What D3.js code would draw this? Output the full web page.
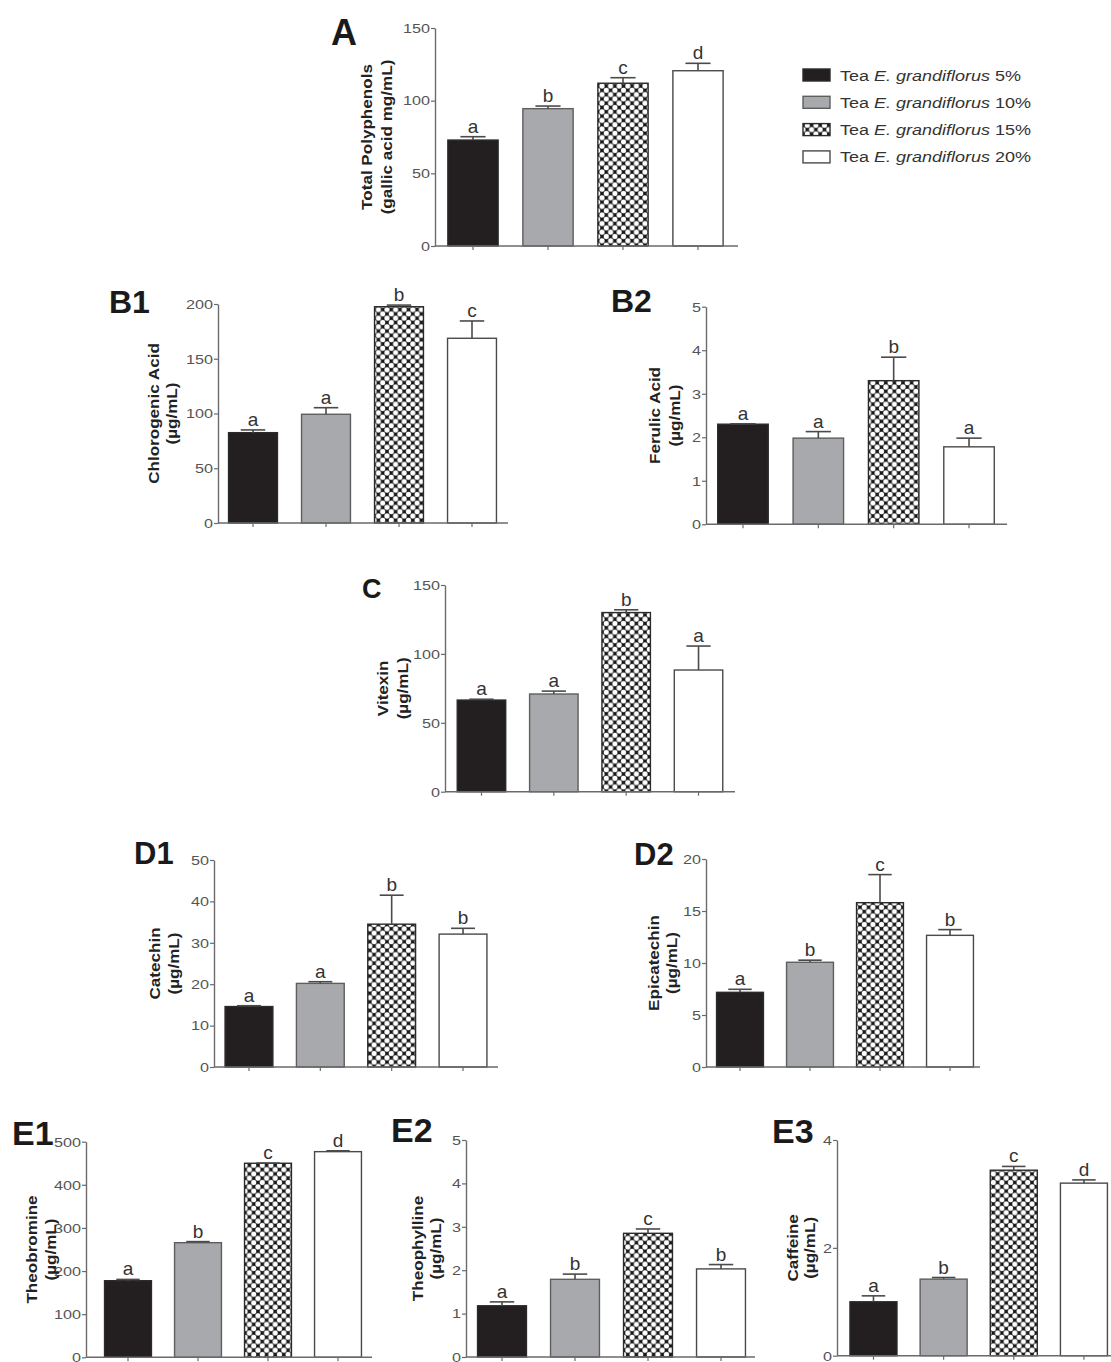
<!DOCTYPE html>
<html>
<head>
<meta charset="utf-8">
<script src="https://cdn.jsdelivr.net/npm/d3@7"></script>
<style>
body { margin: 0; background: #fff; }
svg { display: block; font-family: Arial, "Liberation Sans", sans-serif; }
</style>
</head>
<body>
<script>
// Tea E. grandiflorus infusions: phenolic and methylxanthine contents

var groups = ["5%", "10%", "15%", "20%"];

// mean values, standard deviation and significance letters per compound
var polyphenols = [72.9, 94.5, 112.0, 120.6];
var polyphenolsSd = [2.3, 1.8, 3.8, 5.1];
var polyphenolsSig = ["a", "b", "c", "d"];

var chlorogenic = [82.5, 99.3, 197.5, 168.7];
var chlorogenicSd = [2.5, 6.0, 1.5, 15.8];
var chlorogenicSig = ["a", "a", "b", "c"];

var ferulic = [2.30, 1.98, 3.30, 1.78];
var ferulicSd = [0.01, 0.15, 0.54, 0.20];
var ferulicSig = ["a", "a", "b", "a"];

var vitexin = [66.5, 70.9, 130.0, 88.3];
var vitexinSd = [0.6, 2.1, 2.0, 17.4];
var vitexinSig = ["a", "a", "b", "a"];

var catechin = [14.6, 20.2, 34.5, 32.1];
var catechinSd = [0.2, 0.4, 7.0, 1.4];
var catechinSig = ["a", "a", "b", "b"];

var epicatechin = [7.18, 10.07, 15.8, 12.66];
var epicatechinSd = [0.29, 0.2, 2.7, 0.55];
var epicatechinSig = ["a", "b", "c", "b"];

var theobromine = [177.6, 265.8, 450.0, 476.9];
var theobromineSd = [3, 2.5, 0.5, 2];
var theobromineSig = ["a", "b", "c", "d"];

var theophylline = [1.18, 1.79, 2.85, 2.03];
var theophyllineSd = [0.09, 0.12, 0.10, 0.10];
var theophyllineSig = ["a", "b", "c", "b"];

var caffeine = [1.00, 1.42, 3.44, 3.20];
var caffeineSd = [0.11, 0.03, 0.07, 0.06];
var caffeineSig = ["a", "b", "c", "d"];

// y axis tick labels
var ticksA = [0, 50, 100, 150];
var ticksB1 = [0, 50, 100, 150, 200];
var ticksB2 = [0, 1, 2, 3, 4, 5];
var ticksC = [0, 50, 100, 150];
var ticksD1 = [0, 10, 20, 30, 40, 50];
var ticksD2 = [0, 5, 10, 15, 20];
var ticksE1 = [0, 100, 200, 300, 400, 500];
var ticksE2 = [0, 1, 2, 3, 4, 5];
var ticksE3 = [0, 2, 4];

var legendPercents = ["5%", "10%", "15%", "20%"];

var barFill = ["#231f20", "#a7a9ac", "url(#hatch)", "#ffffff"];
var barStroke = ["#2a2a2a", "#5e5e5e", "#2a2a2a", "#4a4a4a"];

var svg = d3.select("body").append("svg")
    .attr("width", 1111)
    .attr("height", 1362);

// hatch pattern: white dots on black
var defs = svg.append("defs");
var ps = 8.6;
var pat = defs.append("pattern")
    .attr("id", "hatch")
    .attr("patternUnits", "userSpaceOnUse")
    .attr("width", ps)
    .attr("height", ps);
pat.append("rect").attr("width", ps).attr("height", ps).attr("fill", "#151515");
[[0, 0], [ps, 0], [0, ps], [ps, ps], [ps / 2, ps / 2]].forEach(function(c) {
    pat.append("circle").attr("cx", c[0]).attr("cy", c[1]).attr("r", 2.6).attr("fill", "#fff");
});

// text stretched horizontally (the figure is a bit wider than tall)
function addText(parent, x, y, str, size, sx, rot) {
    return parent.append("text")
        .attr("transform", "translate(" + x + "," + y + ")" + (rot ? " rotate(" + rot + ")" : "") + " scale(" + sx + ",1)")
        .style("font-size", size + "px")
        .text(str);
}

var panels = [
    { name: "A", nx: 331, ny: 45, nsize: 36, ax: 435, axEnd: 738, yTop: 28, y0: 246, max: 150, ticks: ticksA,
      band: [435.5, 735.5], mean: polyphenols, sd: polyphenolsSd, sig: polyphenolsSig,
      ylab: ["Total Polyphenols", "(gallic acid mg/mL)"], ylx: [367, 387] },
    { name: "B1", nx: 109, ny: 313, nsize: 32, ax: 218, axEnd: 508, yTop: 304, y0: 523, max: 200, ticks: ticksB1,
      band: [216.5, 508.5], mean: chlorogenic, sd: chlorogenicSd, sig: chlorogenicSig,
      ylab: ["Chlorogenic Acid", "(µg/mL)"], ylx: [154, 172] },
    { name: "B2", nx: 611, ny: 312, nsize: 32, ax: 706, axEnd: 1007, yTop: 306.7, y0: 524.3, max: 5, ticks: ticksB2,
      band: [705.3, 1006.7], mean: ferulic, sd: ferulicSd, sig: ferulicSig,
      ylab: ["Ferulic Acid", "(µg/mL)"], ylx: [655, 675] },
    { name: "C", nx: 362, ny: 598, nsize: 27, ax: 445, axEnd: 735, yTop: 585, y0: 791.7, max: 150, ticks: ticksC,
      band: [445.3, 734.7], mean: vitexin, sd: vitexinSd, sig: vitexinSig,
      ylab: ["Vitexin", "(µg/mL)"], ylx: [383, 403] },
    { name: "D1", nx: 134, ny: 864, nsize: 31, ax: 214, axEnd: 498, yTop: 860, y0: 1067, max: 50, ticks: ticksD1,
      band: [213.3, 498.7], mean: catechin, sd: catechinSd, sig: catechinSig,
      ylab: ["Catechin", "(µg/mL)"], ylx: [155, 174] },
    { name: "D2", nx: 634, ny: 865, nsize: 31, ax: 706, axEnd: 980, yTop: 859, y0: 1067, max: 20, ticks: ticksD2,
      band: [705, 985], mean: epicatechin, sd: epicatechinSd, sig: epicatechinSig,
      ylab: ["Epicatechin", "(µg/mL)"], ylx: [654, 672] },
    { name: "E1", nx: 12, ny: 1145, nsize: 34, ax: 86, axEnd: 372, yTop: 1141.7, y0: 1357.3, max: 500, ticks: ticksE1,
      band: [93, 373], mean: theobromine, sd: theobromineSd, sig: theobromineSig,
      ylab: ["Theobromine", "(µg/mL)"], ylx: [32, 51] },
    { name: "E2", nx: 391, ny: 1142, nsize: 34, ax: 466, axEnd: 755, yTop: 1140, y0: 1357, max: 5, ticks: ticksE2,
      band: [465.5, 757.5], mean: theophylline, sd: theophyllineSd, sig: theophyllineSig,
      ylab: ["Theophylline", "(µg/mL)"], ylx: [418, 436] },
    { name: "E3", nx: 772, ny: 1143, nsize: 34, ax: 837, axEnd: 1111, yTop: 1140, y0: 1355.7, max: 4, ticks: ticksE3,
      band: [838.4, 1119], mean: caffeine, sd: caffeineSd, sig: caffeineSig,
      ylab: ["Caffeine", "(µg/mL)"], ylx: [793, 810] }
];

panels.forEach(function(p) {
    var g = svg.append("g");

    var y = d3.scaleLinear().domain([0, p.max]).range([p.y0, p.yTop]);
    var x = d3.scaleBand().domain(groups).range(p.band).paddingInner(0.33).paddingOuter(0.165);

    var rows = groups.map(function(k, i) {
        return { key: k, i: i, mean: p.mean[i], sd: p.sd[i], sig: p.sig[i] };
    });

    // bars
    g.selectAll(".bar")
        .data(rows)
        .enter()
        .append("rect")
        .attr("x", function(d) { return x(d.key); })
        .attr("y", function(d) { return y(d.mean); })
        .attr("width", x.bandwidth())
        .attr("height", function(d) { return y(0) - y(d.mean); })
        .attr("fill", function(d) { return barFill[d.i]; })
        .attr("stroke", function(d) { return barStroke[d.i]; })
        .attr("stroke-width", 1.4);

    // error bars (upper half only)
    var cap = x.bandwidth() * 0.25;
    var err = g.selectAll(".err").data(rows).enter().append("g")
        .attr("stroke", "#4a4a4a")
        .attr("stroke-width", 1.6);
    err.append("line")
        .attr("x1", function(d) { return x(d.key) + x.bandwidth() / 2; })
        .attr("x2", function(d) { return x(d.key) + x.bandwidth() / 2; })
        .attr("y1", function(d) { return y(d.mean); })
        .attr("y2", function(d) { return y(d.mean + d.sd); });
    err.append("line")
        .attr("x1", function(d) { return x(d.key) + x.bandwidth() / 2 - cap; })
        .attr("x2", function(d) { return x(d.key) + x.bandwidth() / 2 + cap; })
        .attr("y1", function(d) { return y(d.mean + d.sd); })
        .attr("y2", function(d) { return y(d.mean + d.sd); });

    // significance letters
    g.selectAll(".sig")
        .data(rows)
        .enter()
        .append("text")
        .attr("x", function(d) { return x(d.key) + x.bandwidth() / 2; })
        .attr("y", function(d) { return y(d.mean + d.sd) - 4; })
        .attr("text-anchor", "middle")
        .style("font-size", "19px")
        .attr("fill", "#333")
        .text(function(d) { return d.sig; });

    // y axis
    var yAxis = g.append("g")
        .attr("transform", "translate(" + p.ax + ",0)")
        .call(d3.axisLeft(y).tickValues(p.ticks).tickFormat(d3.format("d"))
            .tickSize(4).tickSizeOuter(0).tickPadding(1));
    yAxis.select(".domain").attr("stroke", "#6a6a6a").attr("stroke-width", 1.4);
    yAxis.selectAll(".tick line").attr("stroke", "#6a6a6a").attr("stroke-width", 1.2);
    yAxis.selectAll(".tick text")
        .attr("fill", "#555")
        .style("font-size", "13.5px")
        .style("font-family", "Arial, 'Liberation Sans', sans-serif")
        .attr("x", -5 / 1.2)
        .attr("transform", "scale(1.2,1)");

    // x axis: plain line plus small ticks under each bar
    var xAxis = g.append("g")
        .attr("transform", "translate(0," + p.y0 + ")")
        .call(d3.axisBottom(x).tickSize(4).tickSizeOuter(0).tickFormat(""));
    xAxis.select(".domain").remove();
    xAxis.selectAll(".tick line").attr("stroke", "#6a6a6a").attr("stroke-width", 1.2);
    g.append("line")
        .attr("x1", p.ax).attr("x2", p.axEnd)
        .attr("y1", p.y0).attr("y2", p.y0)
        .attr("stroke", "#6a6a6a")
        .attr("stroke-width", 1.4);

    // y axis title, two rotated lines
    var midY = (p.y0 + p.yTop) / 2;
    p.ylab.forEach(function(t, i) {
        addText(g, p.ylx[i], midY, t, 14, 1.22, -90)
            .attr("dy", "0.36em")
            .attr("text-anchor", "middle")
            .style("font-weight", "bold")
            .attr("fill", "#222");
    });

    // panel letter
    addText(g, p.nx, p.ny, p.name, p.nsize, 1.0)
        .style("font-weight", "bold")
        .attr("fill", "#1a1a1a");
});

// legend
var legend = svg.append("g");
var legendRows = legend.selectAll(".row")
    .data(legendPercents)
    .enter()
    .append("g")
    .attr("transform", function(d, i) { return "translate(803," + (75 + i * 27.3) + ")"; });

legendRows.append("rect")
    .attr("x", 0)
    .attr("y", -6)
    .attr("width", 27)
    .attr("height", 12)
    .attr("fill", function(d, i) { return barFill[i]; })
    .attr("stroke", function(d, i) { return barStroke[i]; })
    .attr("stroke-width", 1.4);

legendRows.each(function(d) {
    var t = addText(d3.select(this), 37, 5.5, null, 15, 1.2)
        .attr("fill", "#333");
    t.append("tspan").text("Tea ");
    t.append("tspan").style("font-style", "italic").text("E. grandiflorus");
    t.append("tspan").text(" " + d);
});
</script>
</body>
</html>
